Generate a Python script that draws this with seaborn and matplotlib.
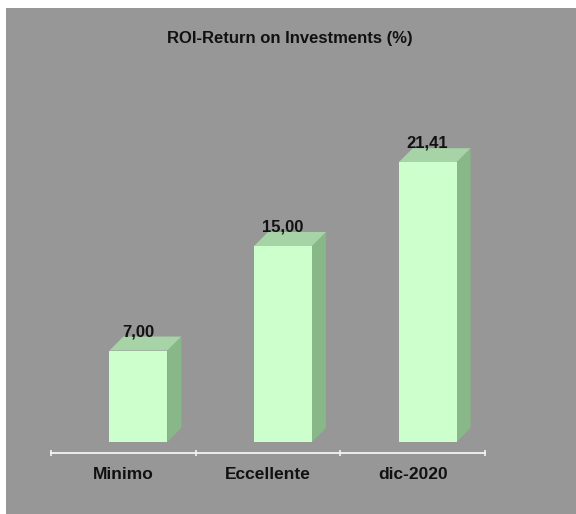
import numpy as np
import pandas as pd
import matplotlib
matplotlib.use("Agg")
import matplotlib.pyplot as plt
from matplotlib.patches import Polygon, Rectangle
import seaborn as sns

# data
categorie = ["Minimo", "Eccellente", "dic-2020"]
valori = [7.00, 15.00, 21.41]
titolo = "ROI-Return on Investments (%)"

GRIGIO = "#979797"
FRONTE = "#ccffcc"
SOPRA = "#a6d4a6"
LATO = "#88b788"

sns.set_style("white")
plt.rcParams['font.family'] = ['Liberation Sans', 'DejaVu Sans']

W, H = 576, 514
fig = plt.figure(figsize=(W / 100, H / 100), dpi=100)
fig.patch.set_facecolor("white")
fig.patches.append(Rectangle((6 / W, 0), 1 - 6 / W, 1 - 8 / H, transform=fig.transFigure,
                             facecolor=GRIGIO, edgecolor="none", zorder=-10))

# axes: floor front edge at y=453px, x from 51 to 485 px
ax = fig.add_axes([51 / W, (H - 453) / H, (485 - 51) / W, (453 - 61) / H])
ax.set_facecolor("none")

df = pd.DataFrame({"cat": categorie, "val": valori})
sns.barplot(data=df, x="cat", y="val", color=FRONTE, saturation=1, width=0.4,
            edgecolor="none", linewidth=0, ax=ax, zorder=3)
ax.set_xlim(-0.5, 2.5)
ax.set_ylim(0, 30)

# data units per pixel
ux = 3.0 / ax.bbox.width
uy = 30.0 / ax.bbox.height
fx, fy = 15 * ux, 11 * uy      # front face offset from floor front
ddx, ddy = 14 * ux, 14 * uy    # bar depth

for p, v in zip(ax.patches, valori):
    x0 = p.get_x() + fx
    w = p.get_width()
    h = p.get_height()
    x1 = x0 + w
    p.set_x(x0)
    p.set_y(fy)
    p.set_clip_on(False)
    lato = Polygon([(x1, fy), (x1 + ddx, fy + ddy), (x1 + ddx, fy + h + ddy), (x1, fy + h)],
                   closed=True, facecolor=LATO, edgecolor="none", zorder=2, clip_on=False)
    sopra = Polygon([(x0, fy + h), (x1, fy + h), (x1 + ddx, fy + h + ddy), (x0 + ddx, fy + h + ddy)],
                    closed=True, facecolor=SOPRA, edgecolor="none", zorder=2, clip_on=False)
    ax.add_patch(lato)
    ax.add_patch(sopra)
    ax.annotate(f"{v:.2f}".replace(".", ","), xy=(x0 + w / 2, fy + h),
                xytext=(0, 19 * 72 / 100), textcoords="offset points",
                ha="center", va="center", fontsize=12, fontweight="bold",
                color="#111111", annotation_clip=False)

for s in ["left", "top", "right"]:
    ax.spines[s].set_visible(False)
ax.spines["bottom"].set_color("#f4f4f4")
ax.spines["bottom"].set_linewidth(1.3)
ax.set_yticks([])
ax.set_xlabel("")
ax.set_ylabel("")
ax.set_xticks([0, 1, 2])
ax.set_xticklabels(categorie)
ax.set_xticks([-0.5, 0.5, 1.5, 2.5], minor=True)
ax.tick_params(axis="x", which="major", bottom=False, length=0, pad=10, labelsize=12.5, labelcolor="#111111")
ax.tick_params(axis="x", which="minor", bottom=True, length=5, direction="inout", color="#f4f4f4", width=1.2)
for t in ax.get_xticklabels():
    t.set_fontweight("bold")

fig.text(290 / W, 1 - 38 / H, titolo, ha="center", va="center", fontsize=12,
         fontweight="bold", color="#111111")

fig.savefig("out.png", dpi=100, facecolor=fig.get_facecolor())
